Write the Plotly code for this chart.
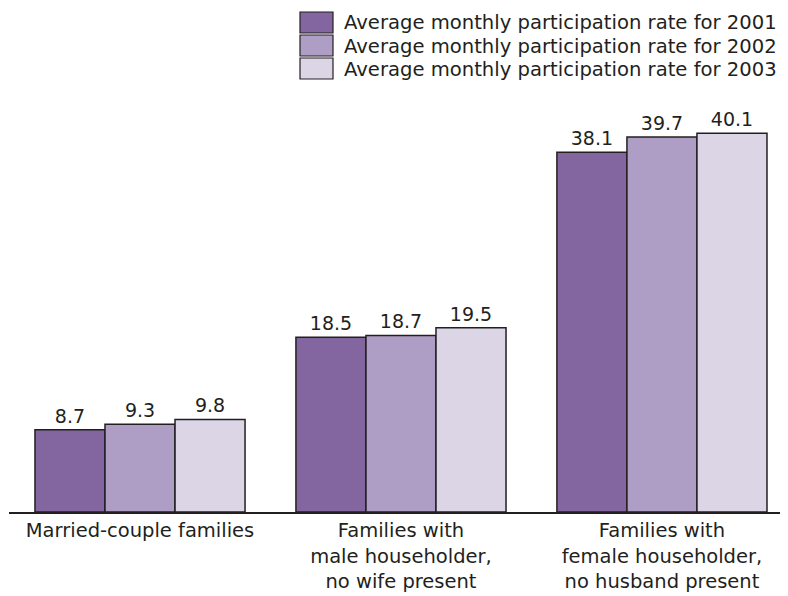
import plotly.graph_objects as go

categories = ["Married-couple families",
              "Families with<br>male householder,<br>no wife present",
              "Families with<br>female householder,<br>no husband present"]
series_names = ["Average monthly participation rate for 2001",
                "Average monthly participation rate for 2002",
                "Average monthly participation rate for 2003"]
rate_2001 = [8.7, 18.5, 38.1]
rate_2002 = [9.3, 18.7, 39.7]
rate_2003 = [9.8, 19.5, 40.1]

values = [rate_2001, rate_2002, rate_2003]
colors = ["#8366a0", "#ae9ec6", "#dcd5e6"]
outline = "#231f20"
FONT = "DejaVu Sans"

# page body has an 8px margin; figure is sized so it ends at the window edge
OFF = 8
W, H = 788 - OFF, 596 - OFF
L, R = 9 - OFF, 0
T, B = 87 - OFF, 84
PW, PH = W - L - R, H - T - B


def px_x(x):
    return (x - OFF - L) / PW


def px_y(y):
    return (H - B - (y - OFF)) / PH


fig = go.Figure()
for name, vals, col in zip(series_names, values, colors):
    fig.add_trace(go.Bar(
        x=categories, y=vals, name=name,
        marker=dict(color=col, line=dict(color=outline, width=1.5)),
        text=[f"{v:.1f}" for v in vals], textposition="outside",
        textfont=dict(family=FONT, size=19, color=outline),
        cliponaxis=False, showlegend=False,
    ))

# legend swatches + labels
for i, (name, col) in enumerate(zip(series_names, colors)):
    top = 12 + i * 23
    fig.add_shape(type="rect", xref="paper", yref="paper",
                  x0=px_x(300), x1=px_x(333),
                  y0=px_y(top + 21), y1=px_y(top),
                  fillcolor=col, line=dict(color=outline, width=1.2))
    fig.add_annotation(xref="paper", yref="paper", x=px_x(342),
                       y=px_y(top + 11), text=name, showarrow=False,
                       xanchor="left", yanchor="middle",
                       font=dict(family=FONT, size=19.6, color=outline))

fig.update_layout(
    width=W, height=H,
    margin=dict(l=L, r=R, t=T, b=B, autoexpand=False),
    paper_bgcolor="white", plot_bgcolor="white",
    barmode="group", bargap=0.195, bargroupgap=0,
    font=dict(family=FONT, size=19, color=outline),
    xaxis=dict(showline=True, linecolor=outline, linewidth=1.5, automargin=False,
               range=[-0.502, 2.483],
               tickfont=dict(family=FONT, size=19.5, color=outline),
               ticks="", showgrid=False),
    yaxis=dict(range=[0, 45], visible=False, showgrid=False, automargin=False),
)

fig.write_html("out.html")
